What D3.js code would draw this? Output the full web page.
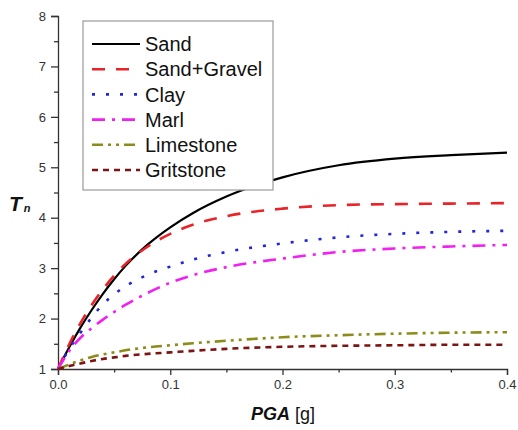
<!DOCTYPE html>
<html>
<head>
<meta charset="utf-8">
<script src="https://cdn.jsdelivr.net/npm/d3@7"></script>
<style>
  body { margin: 0; background: #fff; }
  svg { font-family: Arial, "Liberation Sans", sans-serif; }
  .axis path, .axis line { stroke: #333; stroke-width: 1.3; }
  .axis text { fill: #333; font-size: 13px; }
</style>
</head>
<body>
<svg id="chart" width="518" height="430"></svg>
<script>
// PGA values (g) where the curves were read
const pga = [0, 0.01, 0.02, 0.03, 0.04, 0.05, 0.06, 0.08, 0.1, 0.12, 0.15, 0.2, 0.25, 0.3, 0.35, 0.4];

const sand       = [1.00, 1.43, 1.82, 2.17, 2.49, 2.78, 3.04, 3.47, 3.81, 4.09, 4.42, 4.80, 5.04, 5.17, 5.24, 5.29];
const sandGravel = [1.00, 1.49, 1.91, 2.27, 2.58, 2.85, 3.08, 3.43, 3.68, 3.86, 4.03, 4.18, 4.25, 4.27, 4.28, 4.29];
const clay       = [1.00, 1.40, 1.72, 2.02, 2.28, 2.48, 2.64, 2.87, 3.03, 3.17, 3.32, 3.49, 3.61, 3.68, 3.72, 3.74];
const marl       = [1.00, 1.36, 1.62, 1.81, 1.98, 2.13, 2.27, 2.51, 2.71, 2.86, 3.02, 3.19, 3.32, 3.39, 3.43, 3.46];
const limestone  = [1.00, 1.09, 1.17, 1.24, 1.29, 1.33, 1.37, 1.43, 1.47, 1.51, 1.56, 1.63, 1.67, 1.70, 1.72, 1.73];
const gritstone  = [1.00, 1.06, 1.11, 1.16, 1.20, 1.23, 1.26, 1.30, 1.33, 1.36, 1.40, 1.44, 1.46, 1.47, 1.48, 1.48];

const seriesNames = ["Sand", "Sand+Gravel", "Clay", "Marl", "Limestone", "Gritstone"];
const seriesValues = [sand, sandGravel, clay, marl, limestone, gritstone];

const xTicks = [0, 0.1, 0.2, 0.3, 0.4];
const xMinor = [0.05, 0.15, 0.25, 0.35];
const yTicks = [1, 2, 3, 4, 5, 6, 7, 8];
const yMinor = [1.5, 2.5, 3.5, 4.5, 5.5, 6.5, 7.5];

const styles = [
    { color: "#000000", dash: null,               width: 2.2 },
    { color: "#e8232a", dash: "13,11",            width: 2.6 },
    { color: "#2424d8", dash: "3,11",             width: 2.6 },
    { color: "#f020f0", dash: "13,7,3,7",         width: 2.6 },
    { color: "#8c8c1c", dash: "11,5,3,5,3,5",     width: 2.6 },
    { color: "#7c1414", dash: "6,5",              width: 2.6 }
];

const svg = d3.select("#chart");

const x = d3.scaleLinear().domain([0, 0.4]).range([58, 507]);
const y = d3.scaleLinear().domain([1, 8]).range([369, 16]);

// axes - only left and bottom, like the original
svg.append("g")
    .classed("axis", true)
    .attr("transform", `translate(0, ${y(1)})`)
    .call(d3.axisBottom(x).tickValues(xTicks).tickSize(6).tickPadding(5).tickFormat(d3.format(".1f")));
svg.append("g")
    .classed("axis", true)
    .attr("transform", `translate(0, ${y(1)})`)
    .call(d3.axisBottom(x).tickValues(xMinor).tickSize(3.5).tickFormat(""))
    .select(".domain").remove();

svg.append("g")
    .classed("axis", true)
    .attr("transform", `translate(${x(0)}, 0)`)
    .call(d3.axisLeft(y).tickValues(yTicks).tickSize(7).tickPadding(5).tickFormat(d3.format("d")));
svg.append("g")
    .classed("axis", true)
    .attr("transform", `translate(${x(0)}, 0)`)
    .call(d3.axisLeft(y).tickValues(yMinor).tickSize(4).tickFormat(""))
    .select(".domain").remove();

svg.selectAll(".axis .domain").attr("stroke-width", 1.5);

// curves
const line = d3.line()
    .x((d, i) => x(pga[i]))
    .y(d => y(d))
    .curve(d3.curveMonotoneX);

svg.append("g")
    .selectAll("path")
    .data(seriesValues)
    .join("path")
    .attr("d", line)
    .attr("fill", "none")
    .attr("stroke", (d, i) => styles[i].color)
    .attr("stroke-width", (d, i) => styles[i].width)
    .attr("stroke-dasharray", (d, i) => styles[i].dash);

// legend
const legend = svg.append("g").attr("transform", "translate(83, 21)");
legend.append("rect")
    .attr("width", 190)
    .attr("height", 169)
    .attr("fill", "#fff")
    .attr("stroke", "#999")
    .attr("stroke-width", 1.2);

const rows = legend.selectAll("g.row")
    .data(seriesNames)
    .join("g")
    .classed("row", true)
    .attr("transform", (d, i) => `translate(0, ${23 + i * 25.2})`);

rows.append("line")
    .attr("x1", 9).attr("x2", 57)
    .attr("stroke", (d, i) => styles[i].color)
    .attr("stroke-width", (d, i) => styles[i].width)
    .attr("stroke-dasharray", (d, i) => styles[i].dash);

rows.append("text")
    .attr("x", 62)
    .attr("dy", "0.36em")
    .attr("font-size", 20)
    .attr("fill", "#111")
    .text(d => d);

// axis titles
const xt = svg.append("text")
    .attr("x", 283)
    .attr("y", 420)
    .attr("text-anchor", "middle")
    .attr("font-size", 18)
    .attr("fill", "#111");
xt.append("tspan").attr("font-weight", "bold").attr("font-style", "italic").text("PGA");
xt.append("tspan").text(" [g]");

const yt = svg.append("text")
    .attr("x", 9)
    .attr("y", 211)
    .attr("fill", "#111");
yt.append("tspan").attr("font-size", 21).attr("font-weight", "bold").attr("font-style", "italic").text("T");
yt.append("tspan").attr("font-size", 11).attr("font-weight", "bold").attr("font-style", "italic").attr("dx", 2).attr("dy", 1).text("n");
</script>
</body>
</html>
